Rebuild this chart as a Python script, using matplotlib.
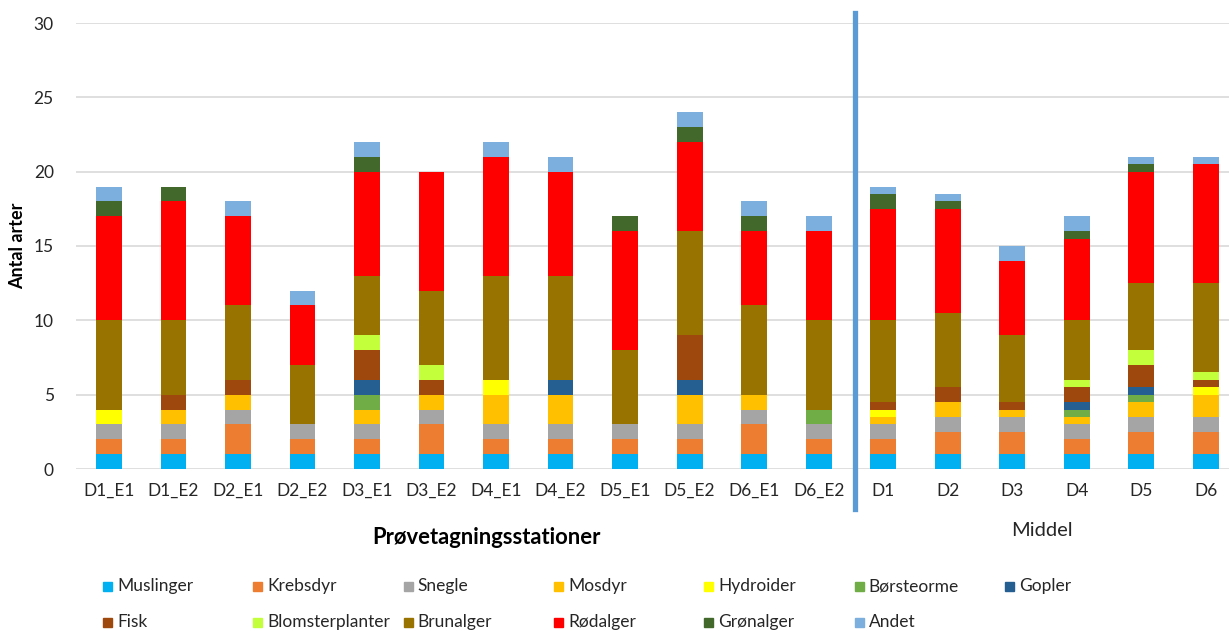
import matplotlib
matplotlib.use("Agg")
import matplotlib.pyplot as plt
import numpy as np
from matplotlib.patches import Rectangle
from matplotlib.lines import Line2D

plt.rcParams['font.family'] = ['Lato', 'DejaVu Sans']

# Stations: 12 single samples followed by the 6 station means ("Middel")
stations = ['D1_E1', 'D1_E2', 'D2_E1', 'D2_E2', 'D3_E1', 'D3_E2',
            'D4_E1', 'D4_E2', 'D5_E1', 'D5_E2', 'D6_E1', 'D6_E2',
            'D1', 'D2', 'D3', 'D4', 'D5', 'D6']

# Number of species per group, stacked bottom to top in this order
muslinger       = [1, 1, 1, 1, 1, 1, 1, 1, 1, 1, 1, 1,   1, 1, 1, 1, 1, 1]
krebsdyr        = [1, 1, 2, 1, 1, 2, 1, 1, 1, 1, 2, 1,   1, 1.5, 1.5, 1, 1.5, 1.5]
snegle          = [1, 1, 1, 1, 1, 1, 1, 1, 1, 1, 1, 1,   1, 1, 1, 1, 1, 1]
mosdyr          = [0, 1, 1, 0, 1, 1, 2, 2, 0, 2, 1, 0,   0.5, 1, 0.5, 0.5, 1, 1.5]
hydroider       = [1, 0, 0, 0, 0, 0, 1, 0, 0, 0, 0, 0,   0.5, 0, 0, 0, 0, 0.5]
borsteorme      = [0, 0, 0, 0, 1, 0, 0, 0, 0, 0, 0, 1,   0, 0, 0, 0.5, 0.5, 0]
gopler          = [0, 0, 0, 0, 1, 0, 0, 1, 0, 1, 0, 0,   0, 0, 0, 0.5, 0.5, 0]
fisk            = [0, 1, 1, 0, 2, 1, 0, 0, 0, 3, 0, 0,   0.5, 1, 0.5, 1, 1.5, 0.5]
blomsterplanter = [0, 0, 0, 0, 1, 1, 0, 0, 0, 0, 0, 0,   0, 0, 0, 0.5, 1, 0.5]
brunalger       = [6, 5, 5, 4, 4, 5, 7, 7, 5, 7, 6, 6,   5.5, 5, 4.5, 4, 4.5, 6]
rodalger        = [7, 8, 6, 4, 7, 8, 8, 7, 8, 6, 5, 6,   7.5, 7, 5, 5.5, 7.5, 8]
gronalger       = [1, 1, 0, 0, 1, 0, 0, 0, 1, 1, 1, 0,   1, 0.5, 0, 0.5, 0.5, 0]
andet           = [1, 0, 1, 1, 1, 0, 1, 1, 0, 1, 1, 1,   0.5, 0.5, 1, 1, 0.5, 0.5]

groups = ['Muslinger', 'Krebsdyr', 'Snegle', 'Mosdyr', 'Hydroider', 'Børsteorme',
          'Gopler', 'Fisk', 'Blomsterplanter', 'Brunalger', 'Rødalger',
          'Grønalger', 'Andet']
series = [muslinger, krebsdyr, snegle, mosdyr, hydroider, borsteorme, gopler,
          fisk, blomsterplanter, brunalger, rodalger, gronalger, andet]
colors = ['#00b0f0', '#ed7d31', '#a5a5a5', '#ffc000', '#ffff00', '#70ad47',
          '#255e91', '#9e480e', '#c4ff3c', '#997300', '#ff0000', '#43682b',
          '#7cafdd']

W, H = 1229, 631
fig = plt.figure(figsize=(W / 100, H / 100), dpi=100)
ax = fig.add_axes([76 / W, (H - 469) / H, (W - 76) / W, 446 / H])

x = np.arange(len(stations))
bottom = np.zeros(len(stations))
for vals, col in zip(series, colors):
    vals = np.array(vals, dtype=float)
    ax.bar(x, vals, width=0.4, bottom=bottom, color=col, zorder=3)
    bottom += vals

ax.set_xlim(-0.51, 17.36)
ax.set_ylim(0, 30)
ax.set_yticks(range(0, 31, 5))
ax.yaxis.grid(True, color='#d9d9d9', linewidth=1.2, zorder=0)
ax.set_axisbelow(True)
for s in ax.spines.values():
    s.set_visible(False)
ax.set_xticks(x)
ax.set_xticklabels(stations)
ax.tick_params(axis='both', length=0, labelsize=12.5, colors='#262626')
ax.tick_params(axis='x', pad=10)
ax.tick_params(axis='y', pad=16)

# separator between single samples and station means
ax.add_line(Line2D([11.57, 11.57], [-2.7, 30.67], color='#5b9bd5',
                   linewidth=3.8, clip_on=False, zorder=4))

fig.text(18 / W, 1 - 246 / H, 'Antal arter', rotation=90, ha='center',
         va='center', fontsize=13, fontweight='bold')
fig.text(486 / W, 1 - 537 / H, 'Prøvetagningsstationer', ha='center',
         va='center', fontsize=15.8, fontweight='bold')
fig.text(1042 / W, 1 - 531 / H, 'Middel', ha='center', va='center',
         fontsize=14.5, color='#262626')

# legend laid out in a 7-column grid, filled row by row
for i, (name, col) in enumerate(zip(groups, colors)):
    r, c = divmod(i, 7)
    px = 103 + 150.3 * c
    py = 586 + 36 * r
    fig.add_artist(Rectangle((px / W, 1 - (py + 4.5) / H), 9 / W, 9 / H,
                             color=col, transform=fig.transFigure))
    fig.text((px + 14) / W, 1 - py / H, name, ha='left', va='center',
             fontsize=12.5, color='#262626')

fig.savefig('out.png', dpi=100)
